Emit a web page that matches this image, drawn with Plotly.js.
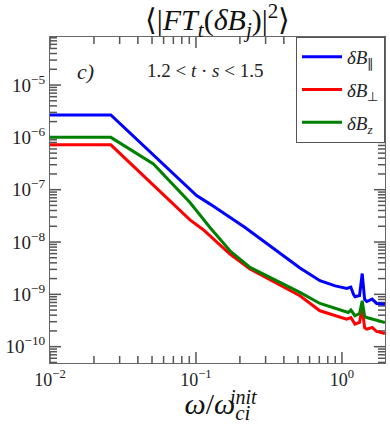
<!DOCTYPE html>
<html>
<head>
<meta charset="utf-8">
<script src="https://cdn.plot.ly/plotly-3.0.1.min.js"></script>
<style>
  html, body { margin: 0; padding: 0; background: #fff; }
  #plot { width: 390px; height: 425px; }
</style>
</head>
<body>
<div id="plot"></div>
<script>
// spectra, omega / omega_ci^init vs power
const freqPar = [0.01, 0.0261, 0.101, 0.125, 0.217, 0.516, 0.707, 0.9, 1.08, 1.15, 1.2, 1.23, 1.32, 1.377, 1.43, 1.48, 1.61, 1.73, 1.97];
const powPar  = [2.68e-6, 2.68e-6, 7.7e-8, 5.3e-8, 1.9e-8, 3.2e-9, 1.82e-9, 1.45e-9, 1.3e-9, 1.38e-9, 1.0e-9, 9.0e-10, 9.5e-10, 2.5e-9, 8.0e-10, 7.3e-10, 8.1e-10, 6.7e-10, 6.5e-10];

const freqPerp = [0.01, 0.0261, 0.091, 0.1122, 0.171, 0.2345, 0.5156, 0.7066, 1.077, 1.152, 1.228, 1.32, 1.377, 1.43, 1.476, 1.612, 1.729, 1.97];
const powPerp  = [7.2e-7, 7.2e-7, 2.64e-8, 1.72e-8, 5.9e-9, 3.05e-9, 9.4e-10, 4.85e-10, 3.37e-10, 3.6e-10, 2.7e-10, 2.9e-10, 5.6e-10, 2.3e-10, 2.17e-10, 2.33e-10, 1.95e-10, 1.79e-10];

const freqZ = [0.01, 0.0261, 0.0511, 0.091, 0.1247, 0.171, 0.2345, 0.5156, 0.7066, 1.105, 1.152, 1.228, 1.32, 1.377, 1.43, 1.476, 1.729, 1.97];
const powZ  = [1.0e-6, 1.0e-6, 3.1e-7, 5.7e-8, 1.9e-8, 6.8e-9, 3.27e-9, 1.09e-9, 6.7e-10, 4.5e-10, 5.0e-10, 3.9e-10, 4.3e-10, 7.55e-10, 3.8e-10, 3.6e-10, 3.2e-10, 2.9e-10];

const seriesNames = ["<i>δB</i><sub>∥</sub>", "<i>δB</i><sub>⊥</sub>", "<i>δB</i><sub><i>z</i></sub>"];
const seriesColors = ["#0000ff", "#ff0000", "#008000"];

// decade ticks with labels
const xDecades = [-2, -1, 0];
const yDecades = [-10, -9, -8, -7, -6, -5];

const serif = "Liberation Serif, Times New Roman, serif";
const axisColor = "#666666";
const tickColor = "#555555";

const xRange = [-2, 0.295];
const yRange = [-10.312, -4.082];

function decadeTicks(exps) {
  return {
    tickvals: exps.map(e => Math.pow(10, e)),
    ticktext: exps.map(e => "10<sup>" + (e < 0 ? "−" + (-e) : e) + "</sup>"),
  };
}

// inside tick marks on both sides of one axis, as a line trace on the main
// log axes. len is a fraction of the other axis' span.
function tickTrace(range, other, len, isX) {
  const a = [], b = [];
  const span = other[1] - other[0];
  const lo = Math.floor(range[0]), hi = Math.ceil(range[1]);
  for (let e = lo; e <= hi; e++) {
    for (let m = 1; m <= 9; m++) {
      const v = e + Math.log10(m);
      if (v < range[0] || v > range[1]) continue;
      const l = (m === 1 ? len.major : len.minor) * span;
      const p = Math.pow(10, v);
      a.push(p, p, null, p, p, null);
      b.push(Math.pow(10, other[0]), Math.pow(10, other[0] + l), null,
             Math.pow(10, other[1]), Math.pow(10, other[1] - l), null);
    }
  }
  return {
    type: "scatter",
    mode: "lines",
    x: isX ? a : b,
    y: isX ? b : a,
    line: { color: tickColor, width: 1.5 },
    showlegend: false,
    hoverinfo: "skip",
    connectgaps: false,
  };
}

const traces = [
  tickTrace(xRange, yRange, { major: 11 / 326, minor: 7 / 326 }, true),
  tickTrace(yRange, xRange, { major: 11 / 335, minor: 7 / 335 }, false),
];

[
  [freqPar, powPar],
  [freqPerp, powPerp],
  [freqZ, powZ],
].forEach((d, i) => traces.push({
  x: d[0],
  y: d[1],
  type: "scatter",
  mode: "lines",
  name: seriesNames[i],
  legendgroup: "g" + i,
  line: { color: seriesColors[i], width: 3 },
}));

const layout = {
  width: 390,
  height: 425,
  margin: { l: 50, r: 5, t: 37, b: 62 },
  paper_bgcolor: "#fff",
  plot_bgcolor: "#fff",
  showlegend: true,
  title: {
    text: "⟨|<i>FT</i><sub><i>t</i></sub>(<i>δB</i><sub><i>j</i></sub>)|<sup>2</sup>⟩",
    font: { family: serif, size: 30, color: "#111" },
    x: 0.5,
    xanchor: "center",
    xref: "paper",
    y: 0.953,
    yanchor: "middle",
    yref: "container",
  },
  xaxis: Object.assign({ type: "log", tickmode: "array" }, decadeTicks(xDecades), {
    range: xRange,
    showgrid: false,
    zeroline: false,
    ticks: "",
    mirror: true,
    showline: true,
    linecolor: axisColor,
    linewidth: 1,
    tickfont: { family: serif, size: 18, color: "#222" },
    title: {
      text: "<i>ω</i>/<i>ω</i><sub><i>ci</i></sub>",
      font: { family: serif, size: 30, color: "#111" },
      standoff: 9,
    },
  }),
  yaxis: Object.assign({ type: "log", tickmode: "array" }, decadeTicks(yDecades), {
    range: yRange,
    showgrid: false,
    zeroline: false,
    ticks: "",
    mirror: true,
    showline: true,
    linecolor: axisColor,
    linewidth: 1,
    tickfont: { family: serif, size: 19, color: "#222" },
  }),
  legend: {
    x: 1,
    xanchor: "right",
    y: 1,
    yanchor: "top",
    bgcolor: "#fff",
    bordercolor: "#555",
    borderwidth: 1,
    itemwidth: 40,
    tracegroupgap: 5,
    font: { family: serif, size: 19, color: "#222" },
  },
  annotations: [
    {
      text: "<i>c)</i>",
      xref: "paper", yref: "paper",
      x: 0.0746, y: 0.94,
      showarrow: false,
      font: { family: serif, size: 22, color: "#222" },
    },
    {
      text: "1.2 &lt; <i>t</i> · <i>s</i> &lt; 1.5",
      xref: "paper", yref: "paper",
      x: 0.463, y: 0.936,
      showarrow: false,
      font: { family: serif, size: 19, color: "#222" },
    },
    {
      // superscript of the x-axis title, stacked over the "ci" subscript
      text: "<i>init</i>",
      xref: "paper", yref: "paper",
      x: 0.531, xanchor: "left",
      y: -0.105, yanchor: "middle",
      showarrow: false,
      font: { family: serif, size: 20, color: "#111" },
    },
  ],
};

Plotly.newPlot("plot", traces, layout, { displayModeBar: false, staticPlot: true });
</script>
</body>
</html>
